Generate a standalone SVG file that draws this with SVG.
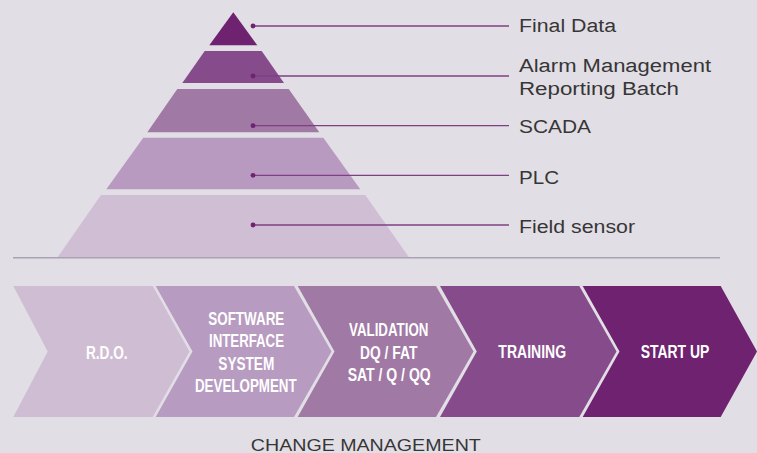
<svg xmlns="http://www.w3.org/2000/svg" width="757" height="453" viewBox="0 0 757 453">
  <style>
    .lbl { font-family: "Liberation Sans", Arial, sans-serif; font-size: 18px; fill: #363636; }
    .chv { font-family: "Liberation Sans Narrow", "Liberation Sans", Arial, sans-serif; font-size: 18px; font-weight: bold; fill: #ffffff; text-anchor: middle; }
    .ldr { stroke: #7e3f84; stroke-width: 1.3; fill: none; }
    .dot { fill: #6e2270; }
  </style>
  <rect x="0" y="0" width="757" height="453" fill="#e2dee5"/>

  <g id="pyramid">
    <g id="layer-final-data"><polygon points="233.3,12.3 257.3,45.3 209.3,45.3" fill="#6e2270"/></g>
    <g id="layer-alarm"><polygon points="204.7,51 261.7,51 284,83 182.3,83" fill="#864b8b"/></g>
    <g id="layer-scada"><polygon points="177.3,89 288.7,89 319.3,132.3 147.3,132.3" fill="#a079a5"/></g>
    <g id="layer-plc"><polygon points="143.3,137.7 323.3,137.7 360.3,189.3 106.3,189.3" fill="#b89ac0"/></g>
    <g id="layer-field"><polygon points="101,195 365.3,195 409.3,257.7 57.3,257.7" fill="#d0bed5"/></g>
  </g>

  <line x1="13" y1="257.8" x2="720" y2="257.8" stroke="#aaa2b2" stroke-width="1.4"/>

  <g id="connectors">
    <line class="ldr" x1="253" y1="26" x2="509" y2="26"/>
    <line class="ldr" x1="253" y1="76" x2="509" y2="76"/>
    <line class="ldr" x1="253" y1="125.7" x2="509" y2="125.7"/>
    <line class="ldr" x1="253" y1="175.3" x2="509" y2="175.3"/>
    <line class="ldr" x1="253" y1="225" x2="509" y2="225"/>
    <circle class="dot" cx="253" cy="26" r="2.4"/>
    <circle class="dot" cx="253" cy="76" r="2.4"/>
    <circle class="dot" cx="253" cy="125.7" r="2.4"/>
    <circle class="dot" cx="253" cy="175.3" r="2.4"/>
    <circle class="dot" cx="253" cy="225" r="2.4"/>
  </g>

  <g id="labels">
    <text class="lbl" x="519" y="32.3" textLength="97" lengthAdjust="spacingAndGlyphs">Final Data</text>
    <text class="lbl" x="519" y="71.5" textLength="192" lengthAdjust="spacingAndGlyphs">Alarm Management</text>
    <text class="lbl" x="519" y="95" textLength="160" lengthAdjust="spacingAndGlyphs">Reporting Batch</text>
    <text class="lbl" x="519" y="133.3" textLength="72" lengthAdjust="spacingAndGlyphs">SCADA</text>
    <text class="lbl" x="519" y="184" textLength="40" lengthAdjust="spacingAndGlyphs">PLC</text>
    <text class="lbl" x="519" y="232.7" textLength="116" lengthAdjust="spacingAndGlyphs">Field sensor</text>
  </g>

  <g id="step-rdo">
    <polygon points="13.3,286 152.7,286 189.5,351.5 152.7,417 13.3,417 47.7,351.5" fill="#cfbdd4"/>
    <text class="chv" x="106.8" y="359.3" textLength="41.7" lengthAdjust="spacingAndGlyphs">R.D.O.</text>
  </g>
  <g id="step-software">
    <polygon points="155.7,286 294,286 331.5,351.5 294,417 155.7,417 192.5,351.5" fill="#b79bc0"/>
    <text class="chv" x="246.3" y="325" textLength="76" lengthAdjust="spacingAndGlyphs">SOFTWARE</text>
    <text class="chv" x="246.5" y="347.3" textLength="75" lengthAdjust="spacingAndGlyphs">INTERFACE</text>
    <text class="chv" x="246.3" y="370" textLength="56" lengthAdjust="spacingAndGlyphs">SYSTEM</text>
    <text class="chv" x="245.8" y="392.3" textLength="101.7" lengthAdjust="spacingAndGlyphs">DEVELOPMENT</text>
  </g>
  <g id="step-validation">
    <polygon points="297.7,286 436,286 473.5,351.5 436,417 297.7,417 334.5,351.5" fill="#a079a5"/>
    <text class="chv" x="388.7" y="335.7" textLength="79.3" lengthAdjust="spacingAndGlyphs">VALIDATION</text>
    <text class="chv" x="388.7" y="358.5" textLength="57.3" lengthAdjust="spacingAndGlyphs">DQ / FAT</text>
    <text class="chv" x="389.2" y="380.5" textLength="83" lengthAdjust="spacingAndGlyphs">SAT / Q / QQ</text>
  </g>
  <g id="step-training">
    <polygon points="440,286 579.3,286 616.5,351.5 579.3,417 440,417 476.8,351.5" fill="#864b8b"/>
    <text class="chv" x="532.2" y="358.3" textLength="67.7" lengthAdjust="spacingAndGlyphs">TRAINING</text>
  </g>
  <g id="step-startup">
    <polygon points="582.7,286 720.7,286 757,351.5 720.7,417 582.7,417 619.5,351.5" fill="#6e2270"/>
    <text class="chv" x="675" y="358.3" textLength="68.6" lengthAdjust="spacingAndGlyphs">START UP</text>
  </g>

  <text class="lbl" x="365.8" y="450.5" text-anchor="middle" textLength="230" lengthAdjust="spacingAndGlyphs" style="font-size:16.5px">CHANGE MANAGEMENT</text>
</svg>
